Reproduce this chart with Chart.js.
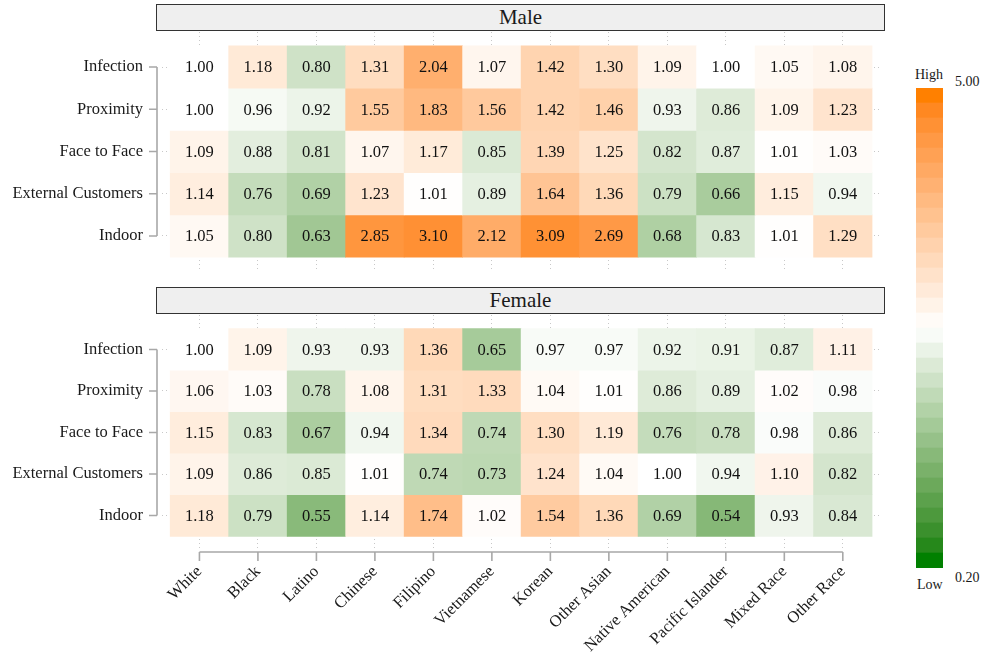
<!DOCTYPE html>
<html>
<head>
<meta charset="utf-8">
<script src="https://cdn.jsdelivr.net/npm/chart.js@4.4.0/dist/chart.umd.min.js"></script>
<style>
  html, body { margin: 0; padding: 0; background: #fff; }
  body { width: 984px; height: 656px; position: relative; overflow: hidden; font-family: 'Liberation Serif', serif; color: #1a1a1a; }
  canvas { position: absolute; }
  .strip { position: absolute; left: 156px; width: 727px; height: 25px; background: #efefef; border: 1.5px solid #333;
           font-size: 21px; line-height: 25px; text-align: center; }
  .lbl { position: absolute; font-size: 14px; line-height: 16px; }
</style>
</head>
<body>
<div class="strip" style="top:4px">Male</div>
<div class="strip" style="top:287px">Female</div>
<canvas id="male" width="900" height="239" style="left:0;top:32px"></canvas>
<canvas id="female" width="900" height="341" style="left:0;top:315px"></canvas>
<canvas id="ramp" width="27" height="480" style="left:916px;top:88px"></canvas>
<div class="lbl" style="left:915px;top:67px">High</div>
<div class="lbl" style="left:955px;top:74px">5.00</div>
<div class="lbl" style="left:955px;top:570px">0.20</div>
<div class="lbl" style="left:917px;top:577px">Low</div>
<script>
const GRUPOS = ['White', 'Black', 'Latino', 'Chinese', 'Filipino', 'Vietnamese', 'Korean',
  'Other Asian', 'Native American', 'Pacific Islander', 'Mixed Race', 'Other Race'];
const FATORES = ['Infection', 'Proximity', 'Face to Face', 'External Customers', 'Indoor'];

const MASCULINO = [
  [1.00, 1.18, 0.80, 1.31, 2.04, 1.07, 1.42, 1.30, 1.09, 1.00, 1.05, 1.08],
  [1.00, 0.96, 0.92, 1.55, 1.83, 1.56, 1.42, 1.46, 0.93, 0.86, 1.09, 1.23],
  [1.09, 0.88, 0.81, 1.07, 1.17, 0.85, 1.39, 1.25, 0.82, 0.87, 1.01, 1.03],
  [1.14, 0.76, 0.69, 1.23, 1.01, 0.89, 1.64, 1.36, 0.79, 0.66, 1.15, 0.94],
  [1.05, 0.80, 0.63, 2.85, 3.10, 2.12, 3.09, 2.69, 0.68, 0.83, 1.01, 1.29]
];
const FEMININO = [
  [1.00, 1.09, 0.93, 0.93, 1.36, 0.65, 0.97, 0.97, 0.92, 0.91, 0.87, 1.11],
  [1.06, 1.03, 0.78, 1.08, 1.31, 1.33, 1.04, 1.01, 0.86, 0.89, 1.02, 0.98],
  [1.15, 0.83, 0.67, 0.94, 1.34, 0.74, 1.30, 1.19, 0.76, 0.78, 0.98, 0.86],
  [1.09, 0.86, 0.85, 1.01, 0.74, 0.73, 1.24, 1.04, 1.00, 0.94, 1.10, 0.82],
  [1.18, 0.79, 0.55, 1.14, 1.74, 1.02, 1.54, 1.36, 0.69, 0.54, 0.93, 0.84]
];
const LIMITES = [0.20, 5.00];

const FONTE = 'Liberation Serif';
const BRANCO = [255, 255, 255], LARANJA = [255, 128, 0], VERDE = [0, 128, 0];

// ── Cores (interpolação em Lab) ─────────────────────────────────────────────
function lin(c) { c /= 255; return c <= 0.04045 ? c / 12.92 : Math.pow((c + 0.055) / 1.055, 2.4); }
function gam(c) { c = c <= 0.0031308 ? 12.92 * c : 1.055 * Math.pow(c, 1 / 2.4) - 0.055; return Math.round(Math.max(0, Math.min(1, c)) * 255); }
function paraLab(rgb) {
  const [r, g, b] = rgb.map(lin);
  const f = t => t > 0.008856 ? Math.cbrt(t) : 7.787 * t + 16 / 116;
  const x = f((0.4124 * r + 0.3576 * g + 0.1805 * b) / 0.95047);
  const y = f(0.2126 * r + 0.7152 * g + 0.0722 * b);
  const z = f((0.0193 * r + 0.1192 * g + 0.9505 * b) / 1.08883);
  return [116 * y - 16, 500 * (x - y), 200 * (y - z)];
}
function deLab([L, a, bb]) {
  const fy = (L + 16) / 116, fx = fy + a / 500, fz = fy - bb / 200;
  const inv = t => t * t * t > 0.008856 ? t * t * t : (t - 16 / 116) / 7.787;
  const X = inv(fx) * 0.95047, Y = inv(fy), Z = inv(fz) * 1.08883;
  const r = 3.2406 * X - 1.5372 * Y - 0.4986 * Z;
  const g = -0.9689 * X + 1.8758 * Y + 0.0415 * Z;
  const b = 0.0557 * X - 0.2040 * Y + 1.0570 * Z;
  return 'rgb(' + gam(r) + ',' + gam(g) + ',' + gam(b) + ')';
}
function misturar(c1, c2, t) {
  const a = paraLab(c1), b = paraLab(c2);
  return deLab(a.map((v, i) => v + (b[i] - v) * t));
}
// escala log simétrica em torno de 1, com realce das diferenças pequenas
function corDoValor(v) {
  let f = Math.log(v) / Math.log(LIMITES[1]);
  f = Math.max(-1, Math.min(1, f));
  const t = 1 - Math.pow(1 - Math.abs(f), 1.7);
  return misturar(BRANCO, f >= 0 ? LARANJA : VERDE, t);
}

// ── Plugins: valores nas células e eixos em colchete ───────────────────────
const textoCelulas = {
  id: 'textoCelulas',
  afterDatasetsDraw(chart) {
    const ctx = chart.ctx;
    ctx.save();
    ctx.font = '16.5px "' + FONTE + '"';
    ctx.fillStyle = '#111';
    ctx.textAlign = 'center';
    ctx.textBaseline = 'middle';
    chart.data.datasets.forEach((ds, di) => {
      chart.getDatasetMeta(di).data.forEach((el, i) => {
        const p = el.getCenterPoint();
        ctx.fillText(ds.valores[i].toFixed(2), p.x, p.y + 1);
      });
    });
    ctx.restore();
  }
};

const colchetes = {
  id: 'colchetes',
  afterDraw(chart, args, opts) {
    const ctx = chart.ctx, a = chart.chartArea;
    const sx = chart.scales.x, sy = chart.scales.y;
    ctx.save();
    ctx.strokeStyle = '#a8a8a8';
    ctx.lineWidth = 1.6;
    const x0 = a.left - 5;
    ctx.beginPath();
    ctx.moveTo(x0, sy.getPixelForValue(0));
    ctx.lineTo(x0, sy.getPixelForValue(FATORES.length - 1));
    FATORES.forEach((f, i) => {
      const y = sy.getPixelForValue(i);
      ctx.moveTo(x0 - 8, y);
      ctx.lineTo(x0, y);
    });
    if (opts.eixoX) {
      const y0 = a.bottom + 2;
      ctx.moveTo(sx.getPixelForValue(0), y0);
      ctx.lineTo(sx.getPixelForValue(GRUPOS.length - 1), y0);
      GRUPOS.forEach((g, i) => {
        const x = sx.getPixelForValue(i);
        ctx.moveTo(x, y0);
        ctx.lineTo(x, y0 + 9);
      });
    }
    ctx.stroke();
    ctx.restore();
  }
};

// ── Painel (mapa de calor) ───────────────────────────────────────────────────
function renderizarPainel(id, valores, eixoX) {
  const grade = { color: '#c8c8c8', lineWidth: 1, drawTicks: false, offset: false };
  const borda = { display: false, dash: [1, 3] };
  new Chart(document.getElementById(id), {
    type: 'bar',
    data: {
      datasets: FATORES.map((fator, r) => ({
        label: fator,
        valores: valores[r],
        data: GRUPOS.map((g, c) => ({ x: c, y: [r - 0.5, r + 0.5] })),
        backgroundColor: valores[r].map(corDoValor),
        borderWidth: 0,
        barPercentage: 1,
        categoryPercentage: 1,
        grouped: false
      }))
    },
    options: {
      responsive: false,
      animation: false,
      layout: { padding: { left: 0, right: 18, top: 0, bottom: 0 } },
      plugins: {
        legend: { display: false },
        tooltip: { enabled: false },
        colchetes: { eixoX }
      },
      scales: {
        x: {
          type: 'linear',
          offset: false,
          min: -0.64,
          max: GRUPOS.length - 1 + 0.67,
          afterBuildTicks: s => { s.ticks = GRUPOS.map((g, i) => ({ value: i })); },
          afterFit: s => { s.height = eixoX ? 106 : 0; },
          ticks: {
            display: eixoX,
            autoSkip: false,
            minRotation: 45,
            maxRotation: 45,
            padding: 12,
            color: '#1a1a1a',
            font: { family: FONTE, size: 16.5 },
            callback: v => GRUPOS[v]
          },
          grid: grade,
          border: borda
        },
        y: {
          type: 'linear',
          offset: false,
          reverse: true,
          min: -0.83,
          max: FATORES.length - 1 + 0.83,
          afterBuildTicks: s => { s.ticks = FATORES.map((f, i) => ({ value: i })); },
          afterFit: s => { s.width = 162; s.paddingTop = 0; s.paddingBottom = 0; },
          ticks: {
            padding: 19,
            color: '#1a1a1a',
            font: { family: FONTE, size: 16.5 },
            callback: v => FATORES[v]
          },
          grid: grade,
          border: borda
        }
      }
    },
    plugins: [textoCelulas, colchetes]
  });
}

// ── Barra de cores (legenda) ─────────────────────────────────────────────────
function renderizarLegenda() {
  const passos = 32;
  const rotulos = [], cores = [];
  for (let k = 0; k < passos; k++) {
    const f = 1 - 2 * k / (passos - 1);
    rotulos.push(String(k));
    cores.push(misturar(BRANCO, f >= 0 ? LARANJA : VERDE, Math.abs(f)));
  }
  new Chart(document.getElementById('ramp'), {
    type: 'bar',
    data: {
      labels: rotulos,
      datasets: [{
        data: rotulos.map(() => [0, 1]),
        backgroundColor: cores,
        borderWidth: 0,
        barPercentage: 1,
        categoryPercentage: 1
      }]
    },
    options: {
      indexAxis: 'y',
      responsive: false,
      animation: false,
      layout: { padding: 0 },
      plugins: { legend: { display: false }, tooltip: { enabled: false } },
      scales: {
        x: { display: false, min: 0, max: 1 },
        y: { display: false }
      }
    }
  });
}

// ── Init ─────────────────────────────────────────────────────────────────────
renderizarPainel('male', MASCULINO, false);
renderizarPainel('female', FEMININO, true);
renderizarLegenda();
</script>
</body>
</html>
